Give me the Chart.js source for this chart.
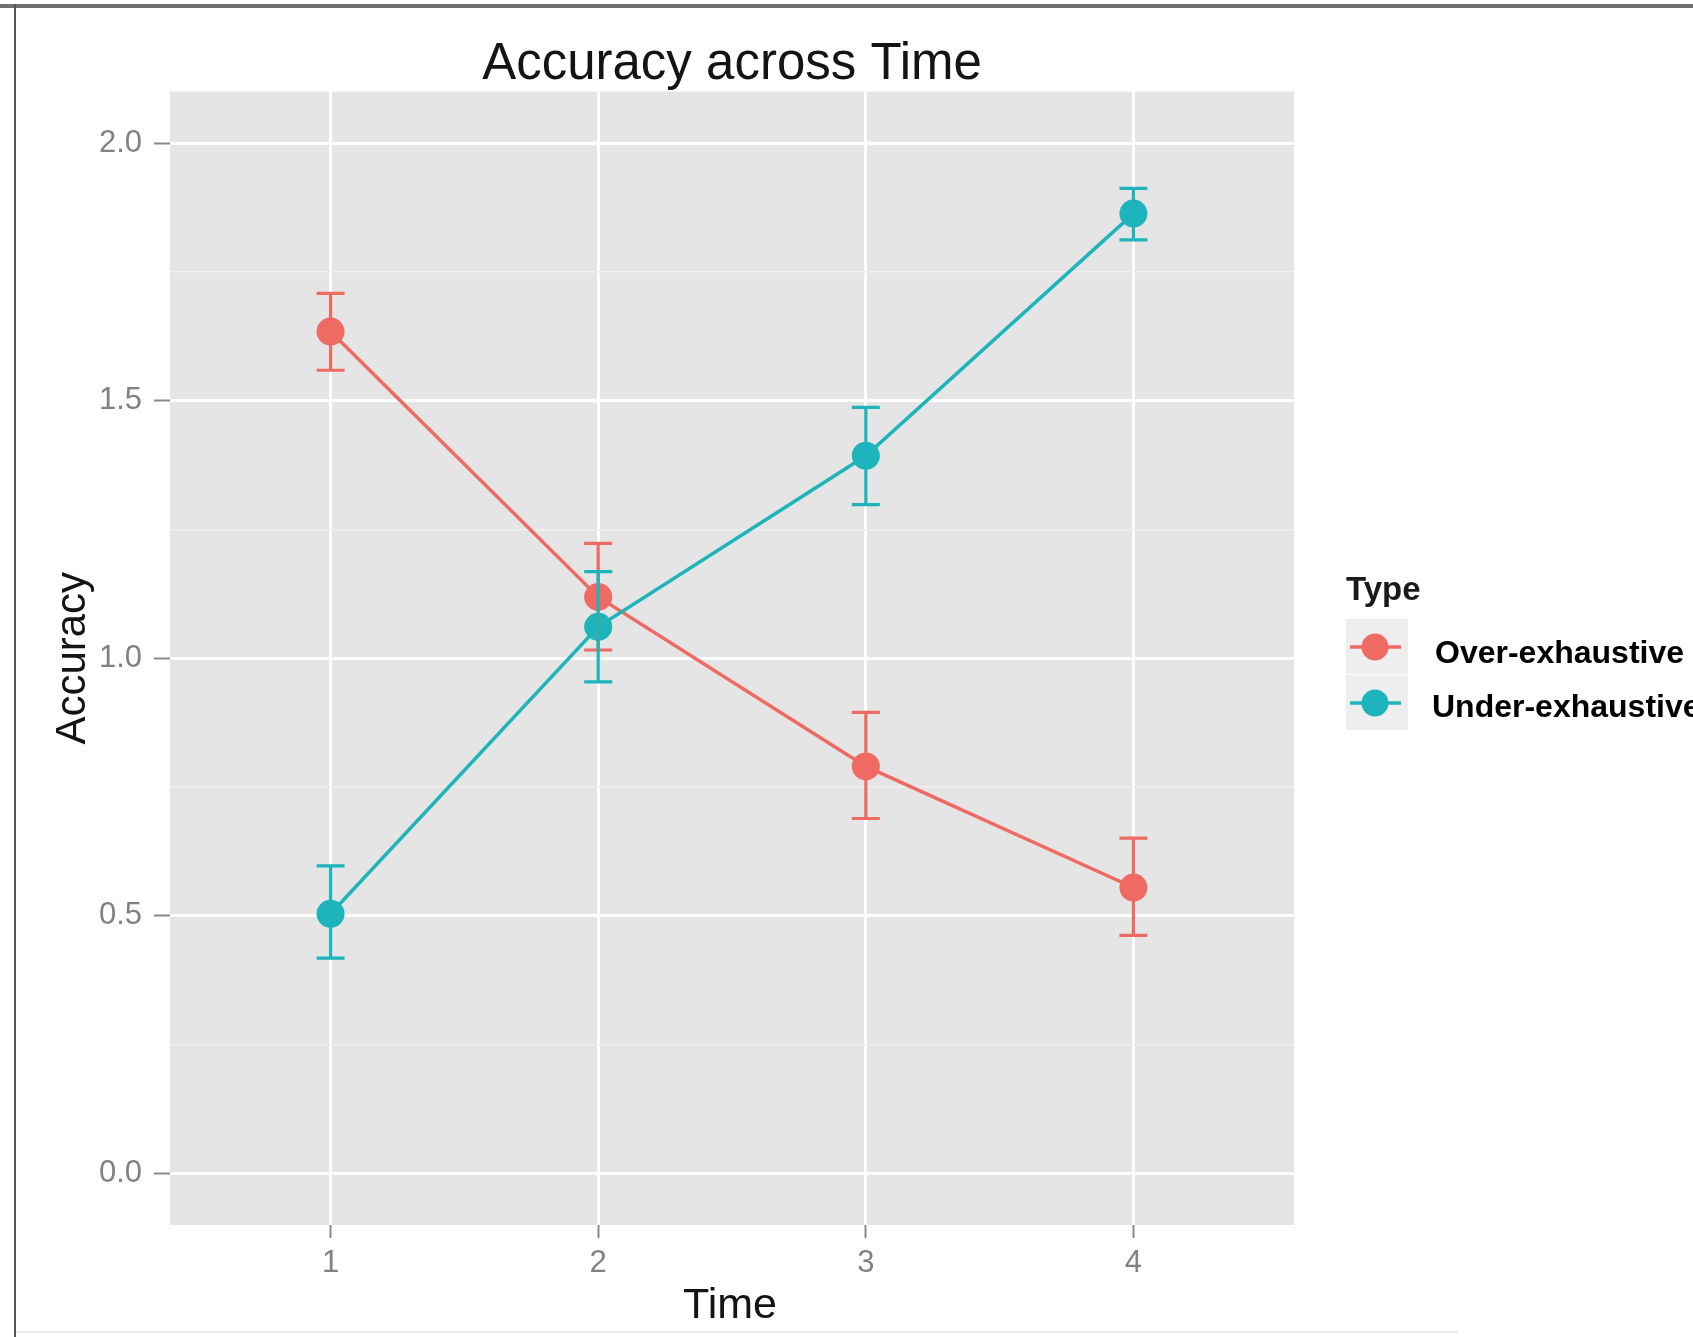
<!DOCTYPE html>
<html>
<head>
<meta charset="utf-8">
<script src="https://cdn.jsdelivr.net/npm/chart.js@4"></script>
<style>
html,body{margin:0;padding:0;background:#fff;overflow:hidden}
#wrap{position:relative;width:1693px;height:1337px;background:#fff}
#c{position:absolute;left:0;top:0}
.frameTop{position:absolute;left:0;top:4px;width:1693px;height:4px;background:#707070}
.frameLeft{position:absolute;left:14px;top:4px;width:2px;height:1333px;background:#555}
.frameBottom{position:absolute;left:16px;top:1331px;width:1442px;height:2px;background:#ececec}
</style>
</head>
<body>
<div id="wrap">
<canvas id="c" width="1693" height="1337"></canvas>
<div class="frameTop"></div>
<div class="frameLeft"></div>
<div class="frameBottom"></div>
</div>
<script>
// ---- data ----
const timeValues = [1, 2, 3, 4];
const timeLabels = ['1', '2', '3', '4'];
const seriesNames = ['Over-exhaustive', 'Under-exhaustive'];
const overMean = [1.634, 1.119, 0.790, 0.555];
const overLow  = [1.559, 1.016, 0.689, 0.462];
const overHigh = [1.708, 1.223, 0.895, 0.651];
const underMean = [0.504, 1.061, 1.393, 1.863];
const underLow  = [0.418, 0.954, 1.298, 1.812];
const underHigh = [0.597, 1.168, 1.487, 1.912];
const yMajorTicks = [0, 0.5, 1.0, 1.5, 2.0];
const yMinorTicks = [0.25, 0.75, 1.25, 1.75];
const chartTitle = 'Accuracy across Time';
const xTitle = 'Time';
const yTitle = 'Accuracy';
const legendTitle = 'Type';

// ---- styles ----
const RED = '#EE6A62';
const TEAL = '#1DB4BB';
const FAMILY = '"Liberation Sans", Arial, Helvetica, sans-serif';
const TICK_TEXT = '#857f7f';
const TICK_MARK = '#8c8888';

const isMajor = v => yMajorTicks.some(m => Math.abs(m - v) < 1e-9);

const panelBg = {
  id: 'panelBg',
  beforeDraw(chart) {
    const a = chart.chartArea, ctx = chart.ctx;
    ctx.save();
    ctx.fillStyle = '#E5E5E5';
    ctx.fillRect(a.left, a.top, a.right - a.left, a.bottom - a.top);
    ctx.restore();
  }
};

const errorBars = {
  id: 'errorBars',
  afterDatasetsDraw(chart) {
    const ctx = chart.ctx, xs = chart.scales.x, ys = chart.scales.y;
    const groups = [[overLow, overHigh, RED], [underLow, underHigh, TEAL]];
    ctx.save();
    ctx.lineWidth = 3.2;
    groups.forEach(([lo, hi, col]) => {
      ctx.strokeStyle = col;
      timeValues.forEach((t, i) => {
        const x = xs.getPixelForValue(t);
        const y1 = ys.getPixelForValue(lo[i]);
        const y2 = ys.getPixelForValue(hi[i]);
        const hw = 14;
        ctx.beginPath();
        ctx.moveTo(x, y1); ctx.lineTo(x, y2);
        ctx.moveTo(x - hw, y1); ctx.lineTo(x + hw, y1);
        ctx.moveTo(x - hw, y2); ctx.lineTo(x + hw, y2);
        ctx.stroke();
      });
    });
    ctx.restore();
  }
};

const texts = {
  id: 'texts',
  afterDraw(chart) {
    const ctx = chart.ctx, a = chart.chartArea;
    const cx = (a.left + a.right) / 2, cy = (a.top + a.bottom) / 2;
    ctx.save();
    ctx.fillStyle = '#141414';
    // title
    ctx.font = '51px ' + FAMILY;
    ctx.textAlign = 'center';
    ctx.textBaseline = 'alphabetic';
    ctx.fillText(chartTitle, cx, 79);
    // x title
    ctx.font = '43px ' + FAMILY;
    ctx.fillText(xTitle, cx - 2, 1318);
    // y title
    ctx.save();
    ctx.translate(85, cy);
    ctx.rotate(-Math.PI / 2);
    ctx.font = '42px ' + FAMILY;
    ctx.fillText(yTitle, 0, 0);
    ctx.restore();
    // legend
    ctx.textAlign = 'left';
    ctx.font = 'bold 33px ' + FAMILY;
    ctx.fillStyle = '#1a1a1a';
    ctx.fillText(legendTitle, 1346, 600);
    const keys = [[RED, 647, 1435, 663], [TEAL, 703, 1432, 717]];
    keys.forEach(([col, ky, tx, ty], i) => {
      ctx.fillStyle = '#EEEEEE';
      ctx.fillRect(1346, ky - 28, 62, 55);
      ctx.strokeStyle = col; ctx.lineWidth = 3.5;
      ctx.beginPath(); ctx.moveTo(1350, ky); ctx.lineTo(1401, ky); ctx.stroke();
      ctx.fillStyle = col;
      ctx.beginPath(); ctx.arc(1375, ky, 13.5, 0, Math.PI * 2); ctx.fill();
      ctx.fillStyle = '#000';
      ctx.font = 'bold 32px ' + FAMILY;
      ctx.fillText(seriesNames[i], tx, ty);
    });
    ctx.restore();
  }
};

const mkData = arr => timeValues.map((t, i) => ({ x: t, y: arr[i] }));

new Chart(document.getElementById('c'), {
  type: 'line',
  data: {
    datasets: [
      { label: seriesNames[0], data: mkData(overMean), borderColor: RED, backgroundColor: RED,
        borderWidth: 3.5, pointRadius: 14, pointHoverRadius: 14, pointBorderWidth: 0, order: 2 },
      { label: seriesNames[1], data: mkData(underMean), borderColor: TEAL, backgroundColor: TEAL,
        borderWidth: 3.5, pointRadius: 14, pointHoverRadius: 14, pointBorderWidth: 0, order: 1 }
    ]
  },
  options: {
    responsive: false,
    animation: false,
    devicePixelRatio: 1,
    events: [],
    layout: { padding: { left: 0, top: 91.5, right: 399, bottom: 0 } },
    plugins: { legend: { display: false }, tooltip: { enabled: false }, title: { display: false } },
    scales: {
      x: {
        type: 'linear', min: 0.4, max: 4.6,
        afterBuildTicks: s => { s.ticks = timeValues.map(v => ({ value: v })); },
        afterFit: s => { s.height = 112; },
        border: { display: false },
        grid: { color: '#FFFFFF', lineWidth: 3, tickColor: TICK_MARK, tickWidth: 2, tickLength: 13 },
        ticks: {
          color: TICK_TEXT, font: { size: 31, family: FAMILY }, padding: 7,
          callback: v => timeLabels[timeValues.indexOf(v)] ?? ''
        }
      },
      y: {
        min: -0.1, max: 2.1,
        afterBuildTicks: s => { s.ticks = yMajorTicks.concat(yMinorTicks).sort((p, q) => p - q).map(v => ({ value: v })); },
        afterFit: s => { s.width = 170; },
        border: { display: false },
        grid: {
          color: c => isMajor(c.tick.value) ? '#FFFFFF' : '#F0F0F0',
          lineWidth: c => isMajor(c.tick.value) ? 3 : 1.5,
          tickColor: c => isMajor(c.tick.value) ? TICK_MARK : 'rgba(0,0,0,0)',
          tickWidth: 2, tickLength: 16
        },
        ticks: {
          color: TICK_TEXT, font: { size: 31, family: FAMILY }, padding: 12,
          callback: v => isMajor(v) ? v.toFixed(1) : ''
        }
      }
    }
  },
  plugins: [panelBg, errorBars, texts]
});
</script>
</body>
</html>
